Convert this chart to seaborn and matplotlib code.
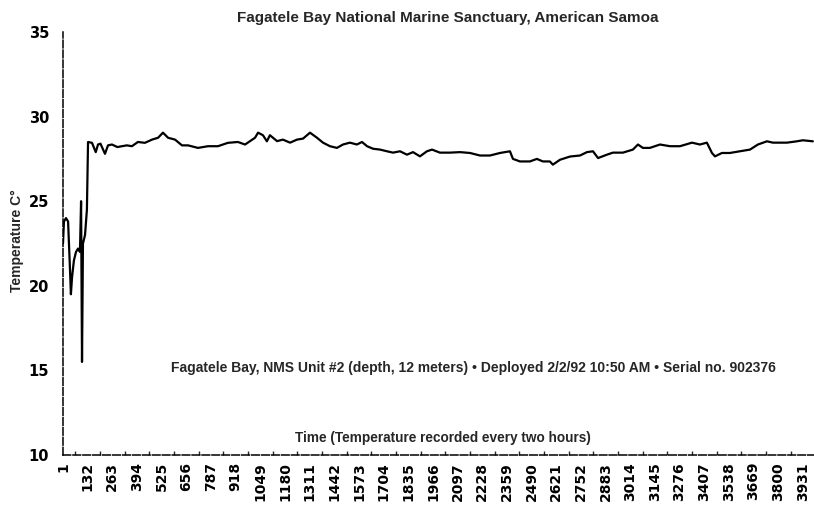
import numpy as np
import pandas as pd
import matplotlib
matplotlib.use("Agg")
import matplotlib.pyplot as plt
from matplotlib.ticker import FixedLocator
import seaborn as sns

# Record number (one reading every two hours) and temperature in deg C
record = [1, 6, 17, 28, 38, 43, 49, 59, 70, 81, 91, 97, 102, 107, 118, 128, 134,
          155, 175, 187, 200, 224, 240, 261, 290, 314, 340, 367, 399, 436, 474,
          506, 532, 559, 596, 633, 665, 718, 771, 824, 877, 930, 968, 1021, 1037,
          1063, 1084, 1100, 1138, 1169, 1207, 1244, 1276, 1313, 1350, 1382, 1419,
          1456, 1488, 1525, 1562, 1589, 1616, 1648, 1685, 1722, 1754, 1791, 1828,
          1860, 1897, 1934, 1961, 2003, 2056, 2110, 2163, 2216, 2269, 2322, 2375,
          2391, 2428, 2481, 2518, 2550, 2587, 2603, 2641, 2694, 2747, 2784, 2816,
          2843, 2890, 2922, 2975, 3028, 3055, 3081, 3118, 3172, 3225, 3278, 3342,
          3384, 3421, 3448, 3464, 3501, 3543, 3596, 3650, 3692, 3740, 3772, 3846,
          3899, 3931, 3984]
temp = [22.5, 23.8, 24.0, 23.8, 21.0, 19.5, 20.5, 21.5, 22.0, 22.2, 22.0, 25.0,
        15.5, 22.5, 23.0, 24.5, 28.5,
        28.45, 27.9, 28.35, 28.4, 27.8, 28.3, 28.35, 28.2, 28.25, 28.3, 28.25,
        28.5, 28.45, 28.64, 28.75, 29.05, 28.75, 28.64, 28.3, 28.3, 28.15, 28.25,
        28.25, 28.45, 28.5, 28.35, 28.75, 29.05, 28.9, 28.54, 28.9, 28.55, 28.64,
        28.46, 28.64, 28.7, 29.05, 28.75, 28.46, 28.25, 28.15, 28.35, 28.46,
        28.35, 28.5, 28.25, 28.1, 28.05, 27.95, 27.87, 27.95, 27.75, 27.9, 27.65,
        27.95, 28.05, 27.87, 27.87, 27.9, 27.85, 27.7, 27.7, 27.85, 27.95, 27.5,
        27.35, 27.35, 27.5, 27.35, 27.35, 27.16, 27.45, 27.64, 27.7, 27.9, 27.95,
        27.55, 27.75, 27.87, 27.87, 28.05, 28.35, 28.15, 28.15, 28.35, 28.25,
        28.25, 28.46, 28.35, 28.46, 27.85, 27.65, 27.85, 27.85, 27.95, 28.05,
        28.35, 28.54, 28.46, 28.46, 28.54, 28.6, 28.54]

tick_labels = [str(v) for v in range(1, 3932, 131)]
y_ticks = [10, 15, 20, 25, 30, 35]

TITLE = "Fagatele Bay National Marine Sanctuary, American Samoa"
NOTE = ("Fagatele Bay, NMS Unit #2 (depth, 12 meters) \u2022 Deployed 2/2/92 "
        "10:50 AM \u2022 Serial no. 902376")
XLABEL = "Time (Temperature recorded every two hours)"
YLABEL = "Temperature C\u00b0"

df = pd.DataFrame({"record": record, "temp": temp})

sns.set_style("white")
plt.rcParams["font.family"] = ["Liberation Sans", "DejaVu Sans"]
plt.rcParams["font.weight"] = "bold"

fig = plt.figure(figsize=(8.14, 5.19), dpi=100)
ax = fig.add_axes([63 / 814, 1 - 455 / 519, 751 / 814, 423 / 519])

sns.lineplot(data=df, x="record", y="temp", color="black", linewidth=1.6,
             sort=False, estimator=None, ax=ax)

ax.set_xlim(1, 3990)
ax.set_ylim(10, 35)

tick_pos = [int(t) for t in tick_labels]
ax.xaxis.set_major_locator(FixedLocator(tick_pos))
ax.set_xticklabels(tick_labels, rotation=90, fontfamily="DejaVu Sans",
                   fontweight="bold", fontsize=10)
ax.xaxis.set_minor_locator(FixedLocator([p + 65.5 for p in tick_pos]))
ax.set_yticks(y_ticks)
ax.set_yticklabels([str(v) for v in y_ticks], fontfamily="DejaVu Sans",
                   fontweight="bold", fontsize=10.5)

ax.tick_params(axis="x", which="major", direction="in", length=6, width=1,
               pad=5, colors="black")
ax.tick_params(axis="x", which="minor", direction="in", length=3, width=1,
               bottom=True)
ax.tick_params(axis="y", direction="in", length=4, width=1, pad=10,
               colors="black")

for side in ["top", "right"]:
    ax.spines[side].set_visible(False)
for side in ["left", "bottom"]:
    ax.spines[side].set_color("black")
    ax.spines[side].set_linewidth(1.1)
    ax.spines[side].set_linestyle((0, (5, 1.5)))

ax.set_xlabel("")
ax.set_ylabel("")
fig.text(17 / 814, 1 - 241 / 519, YLABEL, rotation=90, ha="center",
         va="center", fontsize=10, fontweight="bold")

ax.text(0.547, 0.206, NOTE, transform=ax.transAxes, ha="center", va="center",
        fontsize=10, fontweight="bold")
ax.text(0.506, 0.040, XLABEL, transform=ax.transAxes, ha="center", va="center",
        fontsize=9.8, fontweight="bold")
fig.text(0.55, 0.965, TITLE, ha="center", va="center", fontsize=11,
         fontweight="bold")

fig.savefig("out.png", dpi=100, facecolor="white")
